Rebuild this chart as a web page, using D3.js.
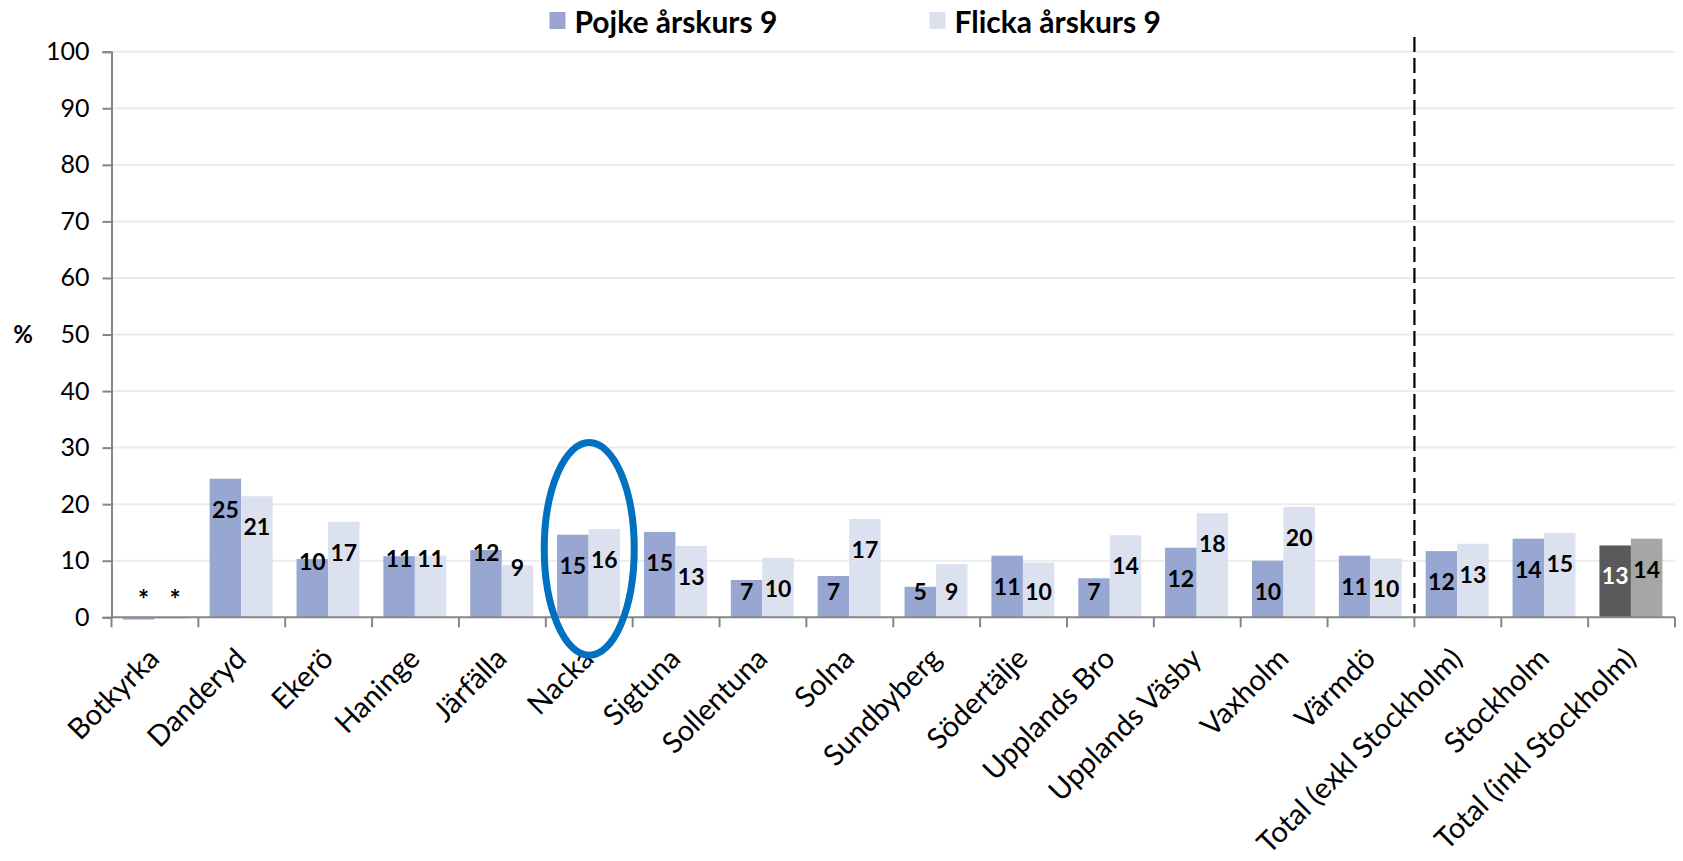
<!DOCTYPE html>
<html><head><meta charset="utf-8">
<script src="https://cdn.jsdelivr.net/npm/d3@7"></script>
<style>body{margin:0;background:#fff} svg{display:block} text{font-family:Lato,"Noto Sans",sans-serif}</style>
</head><body><svg id="c" width="1683" height="861"></svg>
<script>
const categories = ["Botkyrka","Danderyd","Ekerö","Haninge","Järfälla","Nacka","Sigtuna","Sollentuna","Solna","Sundbyberg","Södertälje","Upplands Bro","Upplands Väsby","Vaxholm","Värmdö","Total (exkl Stockholm)","Stockholm","Total (inkl Stockholm)"];
const seriesNames = ["Pojke årskurs 9","Flicka årskurs 9"];
const pojkeValues = [-0.4,24.5,10.3,10.8,11.9,14.6,15.1,6.6,7.3,5.4,10.9,6.9,12.3,10.0,10.9,11.7,13.9,12.7];
const flickaValues = [-0.3,21.4,16.9,10.9,9.2,15.6,12.6,10.5,17.4,9.4,9.7,14.5,18.4,19.5,10.4,13.0,14.9,13.9];
const pojkeLabels = ["*","25","10","11","12","15","15","7","7","5","11","7","12","10","11","12","14","13"];
const flickaLabels = ["*","21","17","11","9","16","13","10","17","9","10","14","18","20","10","13","15","14"];
const yTicks = [0,10,20,30,40,50,60,70,80,90,100];
const highlighted = "Nacka";
const dividerBefore = "Total (exkl Stockholm)";
const totalCategory = "Total (inkl Stockholm)";
const labelsAtTopPojke = ["Ekerö","Haninge","Järfälla"];
const labelsAtTopFlicka = ["Haninge","Järfälla"];

const colors = {pojke:"#97a7d1", flicka:"#dce1f0", pojkeTotal:"#595959", flickaTotal:"#a6a6a6"};
const svg = d3.select("#c");
const pLeft = 111.5, pRight = 1675, pTop = 51.7, pBottom = 617.3;

const x = d3.scaleBand().domain(categories).range([pLeft, pRight]).padding(0);
const bw = x.bandwidth();
const x1 = d3.scaleBand().domain(seriesNames).range([bw*0.13, bw*0.855]).padding(0);
const y = d3.scaleLinear().domain([0,100]).range([pBottom, pTop]);

// gridlines
svg.append("g").selectAll("line").data(yTicks.filter(t=>t>0)).join("line")
  .attr("x1", pLeft).attr("x2", pRight).attr("y1", d=>y(d)).attr("y2", d=>y(d))
  .attr("stroke", "#ebebeb").attr("stroke-width", 2);

// y axis
const yAxis = svg.append("g").attr("transform", `translate(${pLeft},0)`)
  .call(d3.axisLeft(y).tickValues(yTicks).tickSize(9).tickPadding(13));
yAxis.select(".domain").attr("stroke", "#868686").attr("stroke-width", 2);
yAxis.selectAll(".tick line").attr("stroke", "#868686").attr("stroke-width", 2);
yAxis.selectAll(".tick text").attr("font-size", 25).attr("fill", "#000").attr("font-family","Lato");

svg.append("text").attr("x", 23).attr("y", 337).attr("text-anchor","middle").attr("dominant-baseline","middle")
  .attr("font-size", 24).attr("font-weight","bold").text("%");

// bars
const rows = categories.map((c,i)=>({c, vals:[
  {s:seriesNames[0], v:pojkeValues[i], lab:pojkeLabels[i], atTop:labelsAtTopPojke.includes(c)},
  {s:seriesNames[1], v:flickaValues[i], lab:flickaLabels[i], atTop:labelsAtTopFlicka.includes(c)}]}));
function fill(c, s){
  const isTot = c===totalCategory;
  if (s===seriesNames[0]) return isTot?colors.pojkeTotal:colors.pojke;
  return isTot?colors.flickaTotal:colors.flicka;
}
const g = svg.append("g").selectAll("g").data(rows).join("g").attr("transform", d=>`translate(${x(d.c)},0)`);
g.selectAll("rect").data(d=>d.vals.map(v=>({...v,c:d.c}))).join("rect")
  .attr("x", d=>x1(d.s)).attr("width", x1.bandwidth())
  .attr("y", d=>Math.min(y(d.v), y(0))).attr("height", d=>Math.abs(y(d.v)-y(0)))
  .attr("fill", d=>fill(d.c,d.s));
g.selectAll("text").data(d=>d.vals.map(v=>({...v,c:d.c}))).join("text")
  .attr("x", d=>x1(d.s)+x1.bandwidth()/2 + (d.lab==="*"?5:0))
  .attr("y", d=> d.atTop ? y(d.v)+2 : Math.min(y(d.v)+30, 591))
  .attr("dy", d=>d.lab==="*"?"0.3em":null)
  .attr("text-anchor","middle").attr("dominant-baseline","central")
  .attr("font-size", d=>d.lab==="*"?26:23).attr("font-weight","bold")
  .attr("fill", d=> (d.c===totalCategory && d.s===seriesNames[0]) ? "#fff" : "#000")
  .text(d=>d.lab);

// x axis
const xAxisG = svg.append("g");
xAxisG.append("line").attr("x1", pLeft).attr("x2", pRight).attr("y1", y(0)).attr("y2", y(0))
  .attr("stroke","#868686").attr("stroke-width",2);
const bounds = categories.map(c=>x(c)).concat([pRight]);
xAxisG.selectAll("line.t").data(bounds).join("line").attr("class","t")
  .attr("x1", d=>d).attr("x2", d=>d).attr("y1", y(0)).attr("y2", y(0)+10)
  .attr("stroke","#868686").attr("stroke-width",2);
xAxisG.selectAll("text").data(categories).join("text")
  .attr("transform", d=>`translate(${x(d)+bw/2-2},${y(0)+35}) rotate(-45)`)
  .attr("text-anchor","end").attr("dominant-baseline","central")
  .attr("font-size", 29).attr("fill","#000").text(d=>d);

// divider
svg.append("line").attr("x1", x(dividerBefore)).attr("x2", x(dividerBefore))
  .attr("y1", 37).attr("y2", y(0)-4)
  .attr("stroke","#000").attr("stroke-width",2.2).attr("stroke-dasharray","15,6");

// highlight ellipse
svg.append("ellipse").attr("cx", x(highlighted)+bw/2).attr("cy", y(12.1))
  .attr("rx", 45).attr("ry", y(0)-y(18.8))
  .attr("fill","none").attr("stroke","#0070c0").attr("stroke-width",7);

// legend
const leg = svg.append("g");
const legItems = [{s:seriesNames[0], x:549.5, c:colors.pojke},{s:seriesNames[1], x:929.5, c:colors.flicka}];
leg.selectAll("rect").data(legItems).join("rect").attr("x", d=>d.x).attr("y", 12).attr("width",16).attr("height",17).attr("fill", d=>d.c);
leg.selectAll("text").data(legItems).join("text").attr("x", d=>d.x+25).attr("y", 21)
  .attr("dominant-baseline","central").attr("font-size", 30).attr("font-weight","bold").text(d=>d.s);
</script></body></html>
